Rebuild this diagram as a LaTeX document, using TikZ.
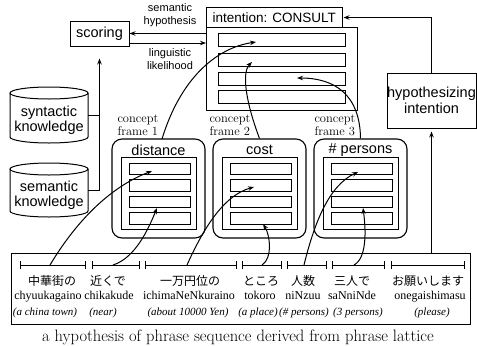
\documentclass[tikz,border=0pt]{standalone}
\usepackage{fontspec}
\usetikzlibrary{arrows.meta}
\newfontfamily\sansf{Liberation Sans}
\newfontfamily\romf{Liberation Serif}
\newfontfamily\jpf{Noto Sans CJK JP}
\tikzset{
  box/.style={draw, line width=1pt, inner sep=0pt},
  big/.style={font=\sansf\fontsize{14.5}{15.5}\selectfont, align=center},
  small/.style={font=\sansf\fontsize{11}{13}\selectfont, align=center},
  cframe/.style={draw, line width=1.1pt, rounded corners=10pt, minimum width=93pt, minimum height=99pt, inner sep=0pt},
  cinner/.style={draw, line width=1pt, minimum width=75pt, minimum height=72pt, inner sep=0pt},
  cslot/.style={draw, line width=0.9pt, minimum width=61pt, minimum height=11.5pt, inner sep=0pt},
  islot/.style={draw, line width=0.9pt, minimum width=127pt, minimum height=13pt, inner sep=0pt},
  arr/.style={line width=1pt, -{Stealth[length=6pt,width=4.5pt]}},
  link/.style={line width=1pt},
  seg/.style={line width=0.9pt, {Bar[width=8pt]}-{Bar[width=8pt]}},
  cfl/.style={font=\fontsize{12.5}{13}\selectfont, align=left, anchor=west},
  jp/.style={font=\jpf\fontsize{12}{14}\selectfont, anchor=base},
  ro/.style={font=\romf\fontsize{12}{14}\selectfont, anchor=base},
  itx/.style={font=\romf\itshape\fontsize{11}{13}\selectfont, anchor=base},
}
\begin{document}
\begin{tikzpicture}[x=1pt,y=-1pt]
\useasboundingbox (0,0) rectangle (477,346);

% scoring and intention
\node[box, big, minimum width=59pt, minimum height=25pt] (scoring) at (99.5,33.5) {scoring};
\node[box, font=\sansf\fontsize{13.5}{15}\selectfont, minimum width=135.5pt, minimum height=19.5pt] (intent) at (274.25,17.5) {intention: CONSULT};
\node[box, minimum width=150.5pt, minimum height=83pt] (slots) at (281.75,68.5) {};
\node[islot] (i1) at (281.5,40) {};
\node[islot] (i2) at (281.5,59.5) {};
\node[islot] (i3) at (281.5,78.5) {};
\node[islot] (i4) at (281.5,96.5) {};

\node[box, big, minimum width=89pt, minimum height=55pt] (hyp) at (431.5,100.5) {hypothesizing\\intention};

% knowledge cylinders
\draw[link] (10,93) -- (10,137) arc[start angle=180, end angle=360, x radius=39pt, y radius=6pt] -- (88,93);
\draw[link] (49,93) ellipse [x radius=39pt, y radius=6pt];
\node[big] (syn) at (49,120) {syntactic\\knowledge};
\draw[link] (10,169) -- (10,211) arc[start angle=180, end angle=360, x radius=39pt, y radius=6pt] -- (88,169);
\draw[link] (49,169) ellipse [x radius=39pt, y radius=6pt];
\node[big] (sem) at (49,195) {semantic\\knowledge};
\coordinate (synR) at (88,115);
\coordinate (semR) at (88,190);
\draw[link] (synR) -- (synR -| scoring.south);
\draw[arr, shorten >=12pt] (semR) -| (scoring.south);

% scoring <-> intention
\draw[arr] (scoring.east -| slots.west) -- (scoring.east);
\draw[arr] ([yshift=-9.5pt]scoring.east) -- ([yshift=-9.5pt]scoring.east -| slots.west);
\node[small] (semhyp) at (170,15.5) {semantic\\hypothesis};
\node[small] (linglk) at (170,59) {linguistic\\likelihood};

% phrase box
\node[box, minimum width=459pt, minimum height=71pt] (phr) at (240.5,289) {};
\draw[arr, shorten >=1pt] (hyp.north) |- (intent.east);
\draw[arr, shorten >=3pt] (hyp.south |- phr.north) -- (hyp.south);

% concept frames
\node[cframe] (fd) at (158.5,188.5) {};
\node[cframe] (fc) at (259.5,188.5) {};
\node[cframe] (fp) at (360.5,188.5) {};
\node[big] (td) at (158.5,150) {distance};
\node[big] (tc) at (259.5,150) {cost};
\node[big] (tp) at (360.5,150) {\# persons};
\node[cinner] (gd) at (158.5,193) {};
\node[cinner] (gc) at (259.5,193) {};
\node[cinner] (gp) at (360.5,193) {};
\foreach \n/\x in {d/159.5, c/260.5, p/361.5}{
  \foreach \k/\y in {1/169, 2/185.5, 3/202, 4/218.5}{
    \node[cslot] (\n\k) at (\x,\y) {};
  }
}
\node[cfl] (cf1) at (114,125) {concept\\frame 1};
\node[cfl] (cf2) at (206,125) {concept\\frame 2};
\node[cfl] (cf3) at (311,125) {concept\\frame 3};

% frame -> intention slots
\coordinate (u1) at (162,139);
\coordinate (v1) at (256,42);
\coordinate (v2) at (252,62);
\coordinate (v3) at (297,78);
\draw[arr] (u1) .. controls (180,80) and (215,48) .. (v1);
\draw[arr] (fc.north) .. controls (245,100) and (242,72) .. (v2);
\draw[arr] (fp.north) .. controls (360,95) and (335,78) .. (v3);

% phrase segments
\draw[seg] (20,265) -- (86,265);
\draw[seg] (92,265) -- (140,265);
\draw[seg] (145,265) -- (237,265);
\draw[seg] (242,265) -- (282,265);
\draw[seg] (287,265) -- (327,265);
\draw[seg] (332,265) -- (385,265);
\draw[seg] (391,265) -- (465,265);
\coordinate (a1) at (50,265);
\coordinate (a2) at (113,265);
\coordinate (a3) at (187,265);
\coordinate (a4) at (262,265);
\coordinate (a5) at (304,265);
\coordinate (a6) at (354,265);
\coordinate (b1) at (152,171);
\coordinate (b2) at (157,208);
\coordinate (b3) at (254,187);
\coordinate (b4) at (263,224);
\coordinate (b5) at (358,172);
\coordinate (b6) at (363,208);
\draw[arr] (a1) .. controls (80,215) and (115,185) .. (b1);
\draw[arr] (a2) .. controls (135,258) and (148,230) .. (b2);
\draw[arr] (a3) .. controls (205,225) and (225,195) .. (b3);
\draw[arr] (a4) .. controls (273,258) and (270,235) .. (b4);
\draw[arr] (a5) .. controls (315,220) and (330,185) .. (b5);
\draw[arr] (a6) .. controls (367,258) and (366,230) .. (b6);

% phrase texts
\node[jp] (j1) at (52,285) {中華街の};
\node[jp] (j2) at (108,285) {近くで};
\node[jp] (j3) at (190,285) {一万円位の};
\node[jp] (j4) at (261,285) {ところ};
\node[jp] (j5) at (303,285) {人数};
\node[jp] (j6) at (352,285) {三人で};
\node[jp] (j7) at (428,285) {お願いします};
\node[ro] (r1) at (48,299) {chyuukagaino};
\node[ro] (r2) at (109,299) {chikakude};
\node[ro] (r3) at (189,299) {ichimaNeNkuraino};
\node[ro] (r4) at (260,299) {tokoro};
\node[ro] (r5) at (303,299) {niNzuu};
\node[ro] (r6) at (352,299) {saNniNde};
\node[ro] (r7) at (430,299) {onegaishimasu};
\node[itx] (e1) at (45,315) {(a china town)};
\node[itx] (e2) at (103,315) {(near)};
\node[itx] (e3) at (188,315) {(about 10000 Yen)};
\node[itx] (e4) at (258,315) {(a place)};
\node[itx] (e5) at (304,315) {(\# persons)};
\node[itx] (e6) at (358,315) {(3 persons)};
\node[itx] (e7) at (432,315) {(please)};

\node[font=\fontsize{16.5}{18}\selectfont] (cap) at (238,337) {a hypothesis of phrase sequence derived from phrase lattice};
\end{tikzpicture}
\end{document}
